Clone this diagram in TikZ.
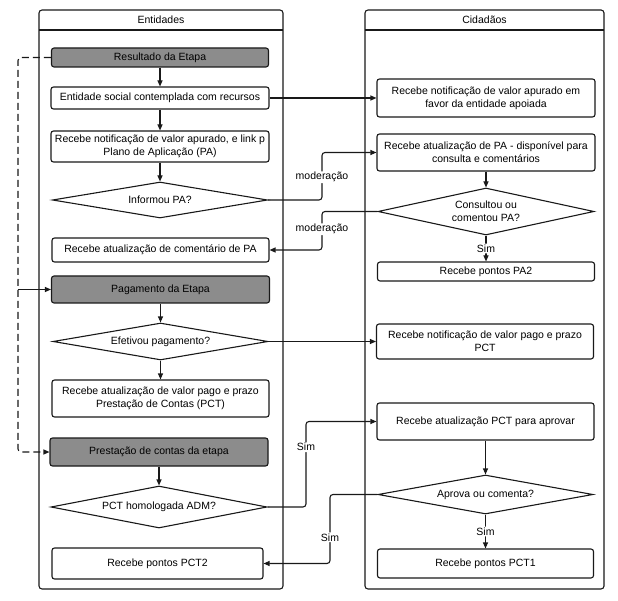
\documentclass[tikz,border=0pt]{standalone}
\usepackage{fontspec}
\setmainfont{Liberation Sans}
\usetikzlibrary{shapes.geometric,arrows.meta,calc}
\definecolor{gfill}{RGB}{140,140,140}
\definecolor{ln}{RGB}{25,25,25}
\begin{document}
\begin{tikzpicture}[x=1pt,y=-1pt,
  every node/.style={font=\fontsize{10.5}{13}\selectfont, text=black},
  lane/.style={draw=ln, line width=1.1pt, rounded corners=3pt},
  box/.style={draw=ln, line width=1.1pt, rounded corners=2.5pt, fill=white, align=center, inner sep=0pt},
  gbox/.style={box, fill=gfill},
  dia/.style={draw=ln, line width=1.1pt, diamond, aspect=6, fill=white, align=center, inner sep=0pt},
  arr/.style={draw=ln, line width=1.1pt, rounded corners=3pt, -{Triangle[length=6pt,width=5pt]}},
  lbl/.style={fill=white, inner sep=1pt}
]
\useasboundingbox (0,0) rectangle (618,601);
% lanes
\draw[lane] (39,10) rectangle (283,589);
\draw[ln, line width=1.1pt] (39,30) -- (283,30);
\node (hl) at (161,20) {Entidades};
\draw[lane] (365,10) rectangle (604,589);
\draw[ln, line width=1.1pt] (365,30) -- (604,30);
\node (hr) at (484.5,20) {Cidadãos};

% left column
\node[gbox, minimum width=217pt, minimum height=19pt] (res) at (160,57.5) {Resultado da Etapa};
\node[box, minimum width=218pt, minimum height=22pt] (ent) at (160,98) {Entidade social contemplada com recursos};
\node[box, minimum width=218pt, minimum height=31pt] (rn1) at (160,146.5) {Recebe notificação de valor apurado, e link p\\Plano de Aplicação (PA)};
\node[dia, minimum width=215pt, minimum height=36pt] (inf) at (160,200) {Informou PA?};
\node[box, minimum width=217pt, minimum height=24pt] (rca) at (160.5,250) {Recebe atualização de comentário de PA};
\node[gbox, minimum width=218pt, minimum height=27pt] (pag) at (160.5,289.5) {Pagamento da Etapa};
\node[dia, minimum width=215pt, minimum height=37pt] (efe) at (160.5,341.5) {Efetivou pagamento?};
\node[box, minimum width=217pt, minimum height=37pt] (rvp) at (160.5,398.5) {Recebe atualização de valor pago e prazo\\Prestação de Contas (PCT)};
\node[gbox, minimum width=218pt, minimum height=28pt] (pre) at (159,452) {Prestação de contas da etapa};
\node[dia, minimum width=216pt, minimum height=42pt] (pct) at (159,507) {PCT homologada ADM?};
\node[box, minimum width=211pt, minimum height=31pt] (p2) at (157.5,563.5) {Recebe pontos PCT2};

% right column
\node[box, minimum width=218pt, minimum height=38pt] (cn1) at (486,98) {Recebe notificação de valor apurado em\\favor da entidade apoiada};
\node[box, minimum width=218pt, minimum height=37pt] (cpa) at (486,152.5) {Recebe atualização de PA - disponível para\\consulta e comentários};
\node[dia, minimum width=216pt, minimum height=47pt] (cons) at (486,211.5) {Consultou ou\\comentou PA?};
\node[box, minimum width=217pt, minimum height=19pt] (pa2) at (486,271.5) {Recebe pontos PA2};
\node[box, minimum width=217pt, minimum height=35pt] (nvp) at (485,341.5) {Recebe notificação de valor pago e prazo\\PCT};
\node[box, minimum width=217pt, minimum height=37pt] (rap) at (485.5,421.5) {Recebe atualização PCT para aprovar};
\node[dia, minimum width=215pt, minimum height=39pt] (apr) at (485.5,494.5) {Aprova ou comenta?};
\node[box, minimum width=216pt, minimum height=29pt] (pct1) at (485.5,563.5) {Recebe pontos PCT1};

% routing coordinates
\coordinate (d1) at (18,0);
\coordinate (m1) at (322,0);
\coordinate (m3) at (306,0);
\coordinate (m4) at (330,0);

% left flow
\draw[arr] (res) -- (ent);
\draw[arr] (ent) -- (rn1);
\draw[arr] (rn1) -- (inf);
\draw[arr] (pag) -- (efe);
\draw[arr] (efe) -- (rvp);
\draw[arr] (pre) -- (pct);

% dashed loop
\draw[arr, dash pattern=on 7pt off 4pt] (res.west) -| (d1 |- pre.west) -- (pre.west);
\draw[arr] (d1 |- pag.west) -- (pag.west);

% cross connectors
\draw[arr] (ent.east) -- (cn1.west);
\draw[arr] (inf.east) -| (m1 |- cpa.west) node[lbl, pos=0.74] {moderação} -- (cpa.west);
\draw[arr] (cons.west) -| (m1 |- rca.east) node[lbl, pos=0.73] {moderação} -- (rca.east);
\draw[arr] (efe.east) -- (efe.east -| nvp.west);
\draw[arr] (pct.east) -| (m3 |- rap.west) node[lbl, pos=0.85] {Sim} -- (rap.west);
\draw[arr] (apr.west) -| (m4 |- p2.east) node[lbl, pos=0.81] {Sim} -- (p2.east);

% right flow
\draw[arr] (cpa) -- (cons);
\draw[arr] (cons) -- node[lbl] {Sim} (pa2);
\draw[arr] (rap) -- (apr);
\draw[arr] (apr) -- node[lbl] {Sim} (pct1);
\end{tikzpicture}
\end{document}
